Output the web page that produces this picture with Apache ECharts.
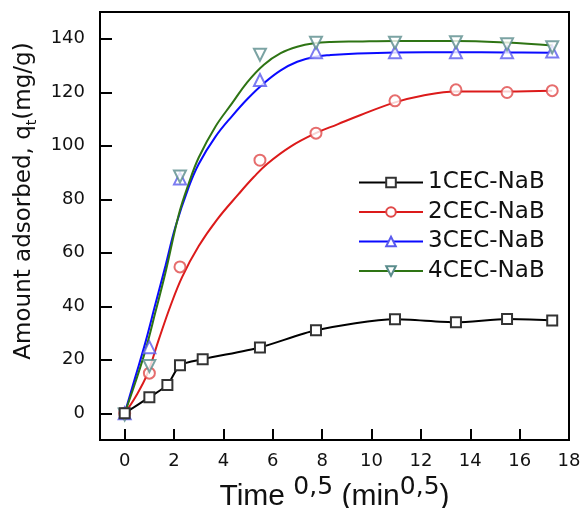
<!DOCTYPE html>
<html><head><meta charset="utf-8">
<script src="https://cdn.jsdelivr.net/npm/echarts@6/dist/echarts.min.js"></script>
<style>html,body{margin:0;padding:0;background:#fff}#c{width:581px;height:508px}</style>
</head><body><div id="c"></div>
<script>
// sqrt(time) values (min^0.5)
const timeX = [0, 1, 1.73, 2.24, 3.16, 5.48, 7.75, 10.95, 13.42, 15.49, 17.32];
const s1 = [0, 6.0, 10.6, 17.9, 20.2, 24.6, 31.0, 35.1, 34.0, 35.2, 34.7];
const ptsX = [0, 1, 2.24, 5.48, 7.75, 10.95, 13.42, 15.49, 17.32];
const s2 = [0, 15.0, 54.7, 94.6, 104.7, 116.8, 120.9, 119.9, 120.6];
const s3 = [0, 24.7, 87.8, 124.6, 135.0, 135.0, 135.0, 135.0, 135.2];
const s4 = [-0.5, 17.7, 88.5, 134.0, 138.5, 138.5, 138.7, 137.9, 136.8];
// fitted curves
const fit2X = [0, 0.43, 0.91, 1.38, 1.85, 2.33, 3.0, 3.75, 4.62, 5.23, 5.78, 6.72, 7.74, 8.62, 9.56, 10.95, 12.0, 13.42, 15.49, 17.32];
const fit2Y = [0, 6, 14.5, 27.5, 40, 51, 62.5, 72.5, 82, 88.3, 93.3, 99.7, 104.7, 108, 111.5, 116.2, 118.6, 120.3, 120.3, 120.6];
const fit3X = [0, 0.43, 0.84, 1.25, 1.65, 2.05, 2.6, 3.0, 3.68, 4.36, 4.97, 5.64, 6.32, 6.99, 7.67, 8.35, 9.43, 10.95, 13.42, 15.49, 17.32];
const fit3Y = [0, 13.5, 26.5, 41, 55, 69.5, 84.7, 93.2, 103.4, 111.2, 117.5, 123.4, 128.2, 131.4, 133.2, 133.9, 134.5, 134.9, 135.0, 134.9, 134.8];
const fit4X = [0, 0.43, 0.84, 1.25, 1.65, 2.19, 2.6, 3.0, 3.68, 4.36, 4.97, 5.64, 6.32, 6.99, 7.67, 8.35, 9.43, 10.95, 13.42, 15.49, 17.32];
const fit4Y = [0, 11.5, 23.5, 38, 52.5, 74.2, 86, 95.6, 107.2, 116.0, 123.8, 130.3, 134.6, 137.0, 138.3, 138.8, 139.0, 139.2, 139.2, 138.6, 137.5];
const names = ['1CEC-NaB', '2CEC-NaB', '3CEC-NaB', '4CEC-NaB'];
const xTicks = [0, 2, 4, 6, 8, 10, 12, 14, 16, 18];
const yTicks = [0, 20, 40, 60, 80, 100, 120, 140];

const zip = (xs, ys) => xs.map((x, i) => [x, ys[i]]);
const chart = echarts.init(document.getElementById('c'));
const tickFont = {fontSize: 18, color: '#111', fontFamily: 'DejaVu Sans'};
const fitCommon = {type: 'line', smooth: 0.4, showSymbol: false, z: 2};
chart.setOption({
  animation: false,
  backgroundColor: '#fff',
  grid: {left: 100, right: 12, top: 12, bottom: 68, outerBoundsMode: 'none', containLabel: false,
    show: true, borderColor: '#000', borderWidth: 2, backgroundColor: 'transparent'},
  legend: {
    data: names, orient: 'vertical', left: 358, top: 171, padding: 0, itemWidth: 64, itemHeight: 12, itemGap: 6.5,
    textStyle: {fontSize: 23, fontFamily: 'DejaVu Sans', color: '#111', lineHeight: 20}
  },
  xAxis: {
    type: 'value', min: -1, max: 18,
    axisLine: {onZero: false, lineStyle: {color: '#000', width: 2}},
    axisTick: {inside: true, length: 11, lineStyle: {color: '#000', width: 2}, customValues: xTicks},
    axisLabel: Object.assign({customValues: xTicks, margin: 12}, tickFont),
    splitLine: {show: false},
    name: '{a|Time }{s|0,5}{a| (min}{s|0,5}{a|)}',
    nameLocation: 'middle', nameGap: 32,
    nameTextStyle: {
      rich: {
        a: {fontSize: 30, fontFamily: 'Liberation Sans', color: '#111', lineHeight: 30, verticalAlign: 'bottom'},
        s: {fontSize: 25, fontFamily: 'DejaVu Sans', color: '#111', lineHeight: 22, padding: [0, 0, 12, 0], verticalAlign: 'bottom'}
      }
    }
  },
  yAxis: {
    type: 'value', min: -10, max: 150,
    axisLine: {onZero: false, lineStyle: {color: '#000', width: 2}},
    axisTick: {inside: true, length: 12, lineStyle: {color: '#000', width: 2}, customValues: yTicks},
    axisLabel: Object.assign({customValues: yTicks, margin: 15}, tickFont),
    splitLine: {show: false},
    name: '{a|Amount adsorbed, q}{b|t}{a|(mg/g)}',
    nameLocation: 'middle', nameGap: 58,
    nameTextStyle: {
      padding: [0, 0, 0, 50],
      rich: {
        a: {fontSize: 23, fontFamily: 'DejaVu Sans', color: '#111', lineHeight: 26, verticalAlign: 'top'},
        b: {fontSize: 14, fontFamily: 'DejaVu Sans', color: '#111', lineHeight: 14, padding: [13, 0, 0, 0], verticalAlign: 'top'}
      }
    }
  },
  series: [
    {name: names[0], type: 'line', data: zip(timeX, s1), smooth: 0.25, symbol: 'emptyRect', symbolSize: 10,
      lineStyle: {color: '#000', width: 2}, itemStyle: {color: '#333', borderWidth: 1.3}, z: 5},
    Object.assign({name: names[1], data: zip(fit2X, fit2Y), symbol: 'emptyCircle',
      lineStyle: {color: '#dc1a1a', width: 2}, itemStyle: {color: '#e04848'}}, fitCommon),
    Object.assign({name: names[2], data: zip(fit3X, fit3Y), symbol: 'emptyTriangle',
      lineStyle: {color: '#0a0aff', width: 2}, itemStyle: {color: '#5a5aee'}}, fitCommon),
    Object.assign({name: names[3], data: zip(fit4X, fit4Y), symbol: 'emptyTriangle', symbolRotate: 180,
      lineStyle: {color: '#2e7414', width: 2}, itemStyle: {color: '#5a8c8c'}}, fitCommon),
    {name: 'p2', type: 'scatter', data: zip(ptsX, s2), symbol: 'emptyCircle', symbolSize: 11,
      itemStyle: {color: '#e04848', borderWidth: 1.2}, z: 4},
    {name: 'p3', type: 'scatter', data: zip(ptsX, s3), symbol: 'emptyTriangle', symbolSize: 12,
      itemStyle: {color: '#5a5aee', borderWidth: 1.2}, z: 4},
    {name: 'p4', type: 'scatter', data: zip(ptsX, s4), symbol: 'emptyTriangle', symbolRotate: 180, symbolSize: 12,
      itemStyle: {color: '#5a8c8c', borderWidth: 1.2}, z: 4}
  ]
});
</script></body></html>
